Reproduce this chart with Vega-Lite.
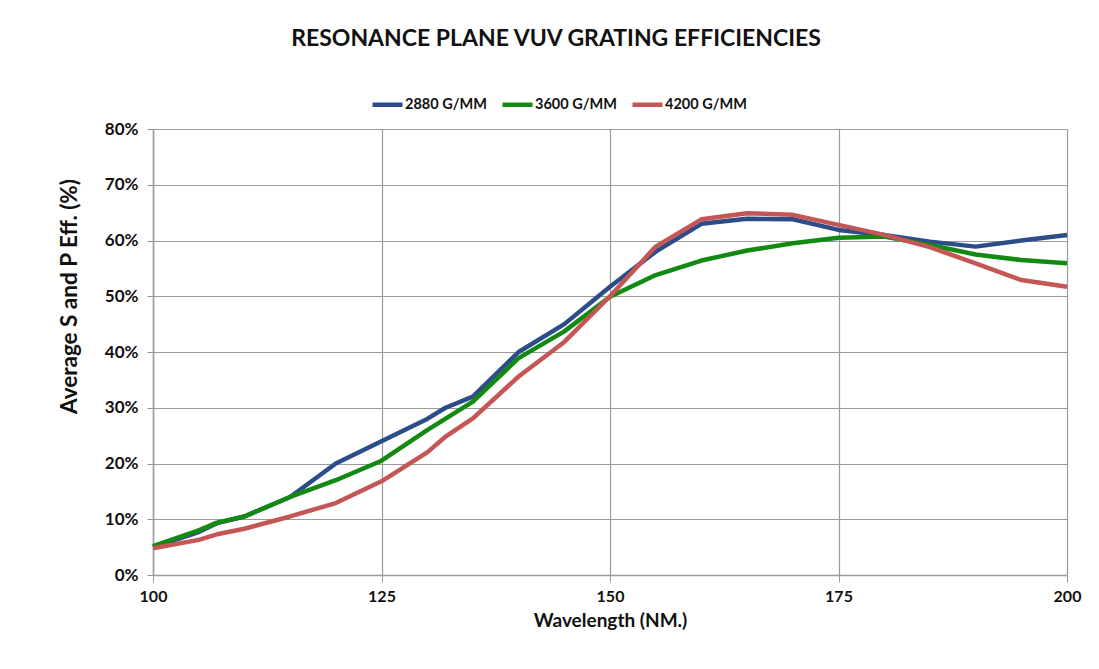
{
  "$schema": "https://vega.github.io/schema/vega-lite/v6.json",
  "width": 914,
  "height": 446,
  "autosize": {"type": "none"},
  "padding": {"left": 153, "top": 129, "right": 32, "bottom": 94},
  "background": "white",
  "config": {
    "view": {"stroke": null},
    "font": "Lato"
  },
  "title": {
    "text": "RESONANCE PLANE VUV GRATING EFFICIENCIES",
    "anchor": "middle",
    "frame": "group",
    "dx": -54,
    "offset": 36,
    "fontSize": 23,
    "fontWeight": "bold",
    "font": "Lato",
    "color": "#111111"
  },
  "data": {
    "values": [
      {"wl": 100, "eff": 0.050, "series": "2880 G/MM"},
      {"wl": 105, "eff": 0.077, "series": "2880 G/MM"},
      {"wl": 107, "eff": 0.093, "series": "2880 G/MM"},
      {"wl": 110, "eff": 0.105, "series": "2880 G/MM"},
      {"wl": 115, "eff": 0.140, "series": "2880 G/MM"},
      {"wl": 120, "eff": 0.200, "series": "2880 G/MM"},
      {"wl": 125, "eff": 0.240, "series": "2880 G/MM"},
      {"wl": 130, "eff": 0.280, "series": "2880 G/MM"},
      {"wl": 132, "eff": 0.300, "series": "2880 G/MM"},
      {"wl": 135, "eff": 0.320, "series": "2880 G/MM"},
      {"wl": 140, "eff": 0.400, "series": "2880 G/MM"},
      {"wl": 145, "eff": 0.450, "series": "2880 G/MM"},
      {"wl": 150, "eff": 0.517, "series": "2880 G/MM"},
      {"wl": 155, "eff": 0.580, "series": "2880 G/MM"},
      {"wl": 160, "eff": 0.630, "series": "2880 G/MM"},
      {"wl": 165, "eff": 0.639, "series": "2880 G/MM"},
      {"wl": 170, "eff": 0.638, "series": "2880 G/MM"},
      {"wl": 175, "eff": 0.619, "series": "2880 G/MM"},
      {"wl": 180, "eff": 0.610, "series": "2880 G/MM"},
      {"wl": 185, "eff": 0.598, "series": "2880 G/MM"},
      {"wl": 190, "eff": 0.589, "series": "2880 G/MM"},
      {"wl": 195, "eff": 0.600, "series": "2880 G/MM"},
      {"wl": 200, "eff": 0.610, "series": "2880 G/MM"},
      {"wl": 100, "eff": 0.052, "series": "3600 G/MM"},
      {"wl": 105, "eff": 0.080, "series": "3600 G/MM"},
      {"wl": 107, "eff": 0.094, "series": "3600 G/MM"},
      {"wl": 110, "eff": 0.105, "series": "3600 G/MM"},
      {"wl": 115, "eff": 0.140, "series": "3600 G/MM"},
      {"wl": 120, "eff": 0.170, "series": "3600 G/MM"},
      {"wl": 125, "eff": 0.205, "series": "3600 G/MM"},
      {"wl": 130, "eff": 0.260, "series": "3600 G/MM"},
      {"wl": 135, "eff": 0.311, "series": "3600 G/MM"},
      {"wl": 140, "eff": 0.389, "series": "3600 G/MM"},
      {"wl": 145, "eff": 0.437, "series": "3600 G/MM"},
      {"wl": 150, "eff": 0.499, "series": "3600 G/MM"},
      {"wl": 155, "eff": 0.538, "series": "3600 G/MM"},
      {"wl": 160, "eff": 0.564, "series": "3600 G/MM"},
      {"wl": 165, "eff": 0.582, "series": "3600 G/MM"},
      {"wl": 170, "eff": 0.595, "series": "3600 G/MM"},
      {"wl": 175, "eff": 0.605, "series": "3600 G/MM"},
      {"wl": 180, "eff": 0.607, "series": "3600 G/MM"},
      {"wl": 185, "eff": 0.592, "series": "3600 G/MM"},
      {"wl": 190, "eff": 0.575, "series": "3600 G/MM"},
      {"wl": 195, "eff": 0.565, "series": "3600 G/MM"},
      {"wl": 200, "eff": 0.559, "series": "3600 G/MM"},
      {"wl": 100, "eff": 0.048, "series": "4200 G/MM"},
      {"wl": 105, "eff": 0.063, "series": "4200 G/MM"},
      {"wl": 107, "eff": 0.073, "series": "4200 G/MM"},
      {"wl": 110, "eff": 0.083, "series": "4200 G/MM"},
      {"wl": 115, "eff": 0.105, "series": "4200 G/MM"},
      {"wl": 120, "eff": 0.129, "series": "4200 G/MM"},
      {"wl": 125, "eff": 0.168, "series": "4200 G/MM"},
      {"wl": 130, "eff": 0.220, "series": "4200 G/MM"},
      {"wl": 132, "eff": 0.248, "series": "4200 G/MM"},
      {"wl": 135, "eff": 0.281, "series": "4200 G/MM"},
      {"wl": 140, "eff": 0.356, "series": "4200 G/MM"},
      {"wl": 145, "eff": 0.418, "series": "4200 G/MM"},
      {"wl": 150, "eff": 0.500, "series": "4200 G/MM"},
      {"wl": 155, "eff": 0.589, "series": "4200 G/MM"},
      {"wl": 160, "eff": 0.638, "series": "4200 G/MM"},
      {"wl": 165, "eff": 0.649, "series": "4200 G/MM"},
      {"wl": 170, "eff": 0.646, "series": "4200 G/MM"},
      {"wl": 175, "eff": 0.628, "series": "4200 G/MM"},
      {"wl": 180, "eff": 0.610, "series": "4200 G/MM"},
      {"wl": 185, "eff": 0.588, "series": "4200 G/MM"},
      {"wl": 190, "eff": 0.559, "series": "4200 G/MM"},
      {"wl": 195, "eff": 0.529, "series": "4200 G/MM"},
      {"wl": 200, "eff": 0.517, "series": "4200 G/MM"}
    ]
  },
  "mark": {"type": "line", "strokeWidth": 4.5, "strokeJoin": "round", "strokeCap": "butt"},
  "encoding": {
    "x": {
      "field": "wl",
      "type": "quantitative",
      "scale": {"domain": [100, 200], "nice": false},
      "axis": {
        "title": "Wavelength (NM.)",
        "values": [100, 125, 150, 175, 200],
        "grid": true,
        "gridColor": "#9a9a9a",
        "gridWidth": 1.2,
        "gridOpacity": 1,
        "domainColor": "#9a9a9a",
        "domainWidth": 1.5,
        "tickColor": "#9a9a9a",
        "tickSize": 7,
        "labelFont": "Lato",
        "labelFontSize": 16,
        "labelFontWeight": "bold",
        "labelColor": "#111111",
        "labelPadding": 6,
        "labelFlush": false,
        "titleFont": "Lato",
        "titleFontSize": 19,
        "titleFontWeight": "bold",
        "titleColor": "#111111",
        "titlePadding": 7
      }
    },
    "y": {
      "field": "eff",
      "type": "quantitative",
      "scale": {"domain": [0, 0.8], "nice": false},
      "axis": {
        "title": "Average S and P Eff. (%)",
        "format": ".0%",
        "values": [0, 0.1, 0.2, 0.3, 0.4, 0.5, 0.6, 0.7, 0.8],
        "grid": true,
        "gridColor": "#9a9a9a",
        "gridWidth": 1.2,
        "gridOpacity": 1,
        "domainColor": "#9a9a9a",
        "domainWidth": 1.5,
        "tickColor": "#9a9a9a",
        "tickSize": 6,
        "labelFont": "Lato",
        "labelFontSize": 17,
        "labelFontWeight": "bold",
        "labelColor": "#111111",
        "labelPadding": 9,
        "labelFlush": false,
        "titleFont": "Lato",
        "titleFontSize": 22.5,
        "titleFontWeight": "bold",
        "titleColor": "#111111",
        "titleX": -84,
        "titleY": 167,
        "titleAlign": "center",
        "titleBaseline": "middle"
      }
    },
    "color": {
      "field": "series",
      "type": "nominal",
      "scale": {
        "domain": ["2880 G/MM", "3600 G/MM", "4200 G/MM"],
        "range": ["#2c4d88", "#128a12", "#c45656"]
      },
      "legend": {
        "title": null,
        "orient": "none",
        "direction": "horizontal",
        "legendX": 217,
        "legendY": -42,
        "symbolType": "stroke",
        "symbolSize": 900,
        "symbolStrokeWidth": 4.5,
        "labelOffset": 0,
        "columnPadding": 6,
        "labelFont": "Lato",
        "labelFontSize": 14.5,
        "labelFontWeight": "bold",
        "labelColor": "#111111"
      }
    }
  }
}
